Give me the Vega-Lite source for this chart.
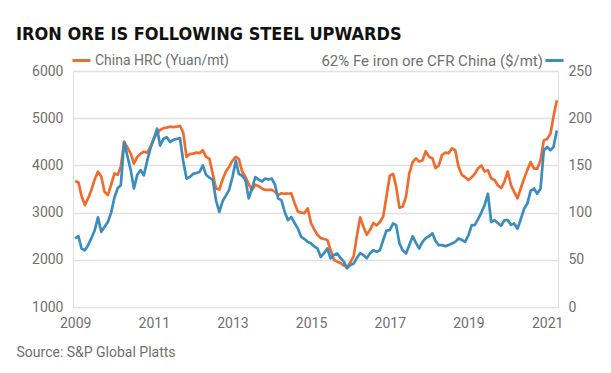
{
  "$schema": "https://vega.github.io/schema/vega-lite/v6.json",
  "width": 485,
  "height": 236,
  "autosize": {"type": "none"},
  "padding": {"left": 73, "top": 71, "right": 53, "bottom": 66},
  "background": "white",
  "title": {
    "text": "IRON ORE IS FOLLOWING STEEL UPWARDS",
    "anchor": "start",
    "frame": "group",
    "dx": -57,
    "offset": -8,
    "baseline": "alphabetic",
    "font": "DejaVu Sans Condensed, Roboto",
    "fontSize": 18,
    "fontWeight": "bold",
    "color": "#111111"
  },
  "data": {
    "values": [
      {"d": "2009-01-01", "hrc": 3670, "ore": 72.6},
      {"d": "2009-02-01", "hrc": 3640, "ore": 75},
      {"d": "2009-03-01", "hrc": 3350, "ore": 62},
      {"d": "2009-04-01", "hrc": 3160, "ore": 60},
      {"d": "2009-05-01", "hrc": 3300, "ore": 65.5},
      {"d": "2009-06-01", "hrc": 3480, "ore": 73},
      {"d": "2009-07-01", "hrc": 3700, "ore": 81},
      {"d": "2009-08-01", "hrc": 3865, "ore": 95},
      {"d": "2009-09-01", "hrc": 3760, "ore": 79.6},
      {"d": "2009-10-01", "hrc": 3440, "ore": 85},
      {"d": "2009-11-01", "hrc": 3370, "ore": 90},
      {"d": "2009-12-01", "hrc": 3590, "ore": 100},
      {"d": "2010-01-01", "hrc": 3830, "ore": 116},
      {"d": "2010-02-01", "hrc": 3800, "ore": 126},
      {"d": "2010-03-01", "hrc": 3970, "ore": 129},
      {"d": "2010-04-01", "hrc": 4500, "ore": 175},
      {"d": "2010-05-01", "hrc": 4380, "ore": 160},
      {"d": "2010-06-01", "hrc": 4250, "ore": 145},
      {"d": "2010-07-01", "hrc": 4040, "ore": 125.5},
      {"d": "2010-08-01", "hrc": 4180, "ore": 140},
      {"d": "2010-09-01", "hrc": 4250, "ore": 145},
      {"d": "2010-10-01", "hrc": 4290, "ore": 139.5},
      {"d": "2010-11-01", "hrc": 4270, "ore": 155},
      {"d": "2010-12-01", "hrc": 4390, "ore": 168},
      {"d": "2011-01-01", "hrc": 4570, "ore": 178},
      {"d": "2011-02-01", "hrc": 4680, "ore": 189},
      {"d": "2011-03-01", "hrc": 4750, "ore": 171},
      {"d": "2011-04-01", "hrc": 4790, "ore": 178},
      {"d": "2011-05-01", "hrc": 4800, "ore": 180},
      {"d": "2011-06-01", "hrc": 4820, "ore": 174.7},
      {"d": "2011-07-01", "hrc": 4810, "ore": 177},
      {"d": "2011-08-01", "hrc": 4820, "ore": 178},
      {"d": "2011-09-01", "hrc": 4840, "ore": 179},
      {"d": "2011-10-01", "hrc": 4700, "ore": 155},
      {"d": "2011-11-01", "hrc": 4180, "ore": 136},
      {"d": "2011-12-01", "hrc": 4240, "ore": 137.7},
      {"d": "2012-01-01", "hrc": 4250, "ore": 141},
      {"d": "2012-02-01", "hrc": 4270, "ore": 142},
      {"d": "2012-03-01", "hrc": 4260, "ore": 143},
      {"d": "2012-04-01", "hrc": 4320, "ore": 150},
      {"d": "2012-05-01", "hrc": 4180, "ore": 140},
      {"d": "2012-06-01", "hrc": 4140, "ore": 137},
      {"d": "2012-07-01", "hrc": 3830, "ore": 135},
      {"d": "2012-08-01", "hrc": 3510, "ore": 113},
      {"d": "2012-09-01", "hrc": 3490, "ore": 100.7},
      {"d": "2012-10-01", "hrc": 3700, "ore": 112},
      {"d": "2012-11-01", "hrc": 3870, "ore": 118},
      {"d": "2012-12-01", "hrc": 3970, "ore": 124},
      {"d": "2013-01-01", "hrc": 4100, "ore": 137.7},
      {"d": "2013-02-01", "hrc": 4180, "ore": 155},
      {"d": "2013-03-01", "hrc": 4140, "ore": 141},
      {"d": "2013-04-01", "hrc": 3870, "ore": 139},
      {"d": "2013-05-01", "hrc": 3760, "ore": 135},
      {"d": "2013-06-01", "hrc": 3600, "ore": 115},
      {"d": "2013-07-01", "hrc": 3480, "ore": 125.5},
      {"d": "2013-08-01", "hrc": 3590, "ore": 137.7},
      {"d": "2013-09-01", "hrc": 3560, "ore": 135},
      {"d": "2013-10-01", "hrc": 3510, "ore": 133},
      {"d": "2013-11-01", "hrc": 3480, "ore": 136},
      {"d": "2013-12-01", "hrc": 3480, "ore": 135},
      {"d": "2014-01-01", "hrc": 3480, "ore": 136},
      {"d": "2014-02-01", "hrc": 3440, "ore": 129},
      {"d": "2014-03-01", "hrc": 3370, "ore": 115},
      {"d": "2014-04-01", "hrc": 3410, "ore": 113},
      {"d": "2014-05-01", "hrc": 3400, "ore": 100.7},
      {"d": "2014-06-01", "hrc": 3400, "ore": 92},
      {"d": "2014-07-01", "hrc": 3410, "ore": 95.5},
      {"d": "2014-08-01", "hrc": 3200, "ore": 89},
      {"d": "2014-09-01", "hrc": 3020, "ore": 83},
      {"d": "2014-10-01", "hrc": 3000, "ore": 74.3},
      {"d": "2014-11-01", "hrc": 2990, "ore": 72},
      {"d": "2014-12-01", "hrc": 3090, "ore": 69},
      {"d": "2015-01-01", "hrc": 2770, "ore": 67.3},
      {"d": "2015-02-01", "hrc": 2640, "ore": 64},
      {"d": "2015-03-01", "hrc": 2530, "ore": 62},
      {"d": "2015-04-01", "hrc": 2460, "ore": 53},
      {"d": "2015-05-01", "hrc": 2440, "ore": 57},
      {"d": "2015-06-01", "hrc": 2420, "ore": 62},
      {"d": "2015-07-01", "hrc": 2210, "ore": 51.5},
      {"d": "2015-08-01", "hrc": 2000, "ore": 55},
      {"d": "2015-09-01", "hrc": 1960, "ore": 56.7},
      {"d": "2015-10-01", "hrc": 1930, "ore": 52},
      {"d": "2015-11-01", "hrc": 1880, "ore": 48},
      {"d": "2015-12-01", "hrc": 1840, "ore": 41},
      {"d": "2016-01-01", "hrc": 1950, "ore": 44.4},
      {"d": "2016-02-01", "hrc": 2080, "ore": 46},
      {"d": "2016-03-01", "hrc": 2500, "ore": 52},
      {"d": "2016-04-01", "hrc": 2900, "ore": 57},
      {"d": "2016-05-01", "hrc": 2700, "ore": 55},
      {"d": "2016-06-01", "hrc": 2530, "ore": 51.5},
      {"d": "2016-07-01", "hrc": 2630, "ore": 56.8},
      {"d": "2016-08-01", "hrc": 2780, "ore": 60},
      {"d": "2016-09-01", "hrc": 2730, "ore": 58.5},
      {"d": "2016-10-01", "hrc": 2800, "ore": 60},
      {"d": "2016-11-01", "hrc": 2920, "ore": 71},
      {"d": "2016-12-01", "hrc": 3340, "ore": 81},
      {"d": "2017-01-01", "hrc": 3780, "ore": 81.4},
      {"d": "2017-02-01", "hrc": 3820, "ore": 88.5},
      {"d": "2017-03-01", "hrc": 3550, "ore": 86.7},
      {"d": "2017-04-01", "hrc": 3100, "ore": 67.3},
      {"d": "2017-05-01", "hrc": 3130, "ore": 60},
      {"d": "2017-06-01", "hrc": 3340, "ore": 56.8},
      {"d": "2017-07-01", "hrc": 3830, "ore": 65.5},
      {"d": "2017-08-01", "hrc": 4070, "ore": 75},
      {"d": "2017-09-01", "hrc": 4150, "ore": 68},
      {"d": "2017-10-01", "hrc": 4080, "ore": 62},
      {"d": "2017-11-01", "hrc": 4110, "ore": 69},
      {"d": "2017-12-01", "hrc": 4300, "ore": 73},
      {"d": "2018-01-01", "hrc": 4180, "ore": 75},
      {"d": "2018-02-01", "hrc": 4150, "ore": 78},
      {"d": "2018-03-01", "hrc": 3940, "ore": 70},
      {"d": "2018-04-01", "hrc": 4000, "ore": 65.5},
      {"d": "2018-05-01", "hrc": 4220, "ore": 65.5},
      {"d": "2018-06-01", "hrc": 4270, "ore": 64.5},
      {"d": "2018-07-01", "hrc": 4260, "ore": 65.5},
      {"d": "2018-08-01", "hrc": 4360, "ore": 67.3},
      {"d": "2018-09-01", "hrc": 4320, "ore": 69},
      {"d": "2018-10-01", "hrc": 3970, "ore": 72.6},
      {"d": "2018-11-01", "hrc": 3800, "ore": 71},
      {"d": "2018-12-01", "hrc": 3750, "ore": 69},
      {"d": "2019-01-01", "hrc": 3690, "ore": 76},
      {"d": "2019-02-01", "hrc": 3750, "ore": 86.7},
      {"d": "2019-03-01", "hrc": 3820, "ore": 86.7},
      {"d": "2019-04-01", "hrc": 3940, "ore": 93},
      {"d": "2019-05-01", "hrc": 4000, "ore": 100},
      {"d": "2019-06-01", "hrc": 3870, "ore": 108},
      {"d": "2019-07-01", "hrc": 3900, "ore": 120},
      {"d": "2019-08-01", "hrc": 3720, "ore": 90},
      {"d": "2019-09-01", "hrc": 3690, "ore": 92},
      {"d": "2019-10-01", "hrc": 3580, "ore": 89},
      {"d": "2019-11-01", "hrc": 3520, "ore": 86},
      {"d": "2019-12-01", "hrc": 3650, "ore": 92},
      {"d": "2020-01-01", "hrc": 3870, "ore": 92},
      {"d": "2020-02-01", "hrc": 3580, "ore": 87},
      {"d": "2020-03-01", "hrc": 3440, "ore": 88.5},
      {"d": "2020-04-01", "hrc": 3300, "ore": 83},
      {"d": "2020-05-01", "hrc": 3510, "ore": 93},
      {"d": "2020-06-01", "hrc": 3720, "ore": 104},
      {"d": "2020-07-01", "hrc": 3900, "ore": 109.6},
      {"d": "2020-08-01", "hrc": 4070, "ore": 123},
      {"d": "2020-09-01", "hrc": 3930, "ore": 125.5},
      {"d": "2020-10-01", "hrc": 3930, "ore": 120},
      {"d": "2020-11-01", "hrc": 4110, "ore": 125.5},
      {"d": "2020-12-01", "hrc": 4530, "ore": 166},
      {"d": "2021-01-01", "hrc": 4560, "ore": 169.5},
      {"d": "2021-02-01", "hrc": 4670, "ore": 166},
      {"d": "2021-03-01", "hrc": 5030, "ore": 169.5},
      {"d": "2021-04-01", "hrc": 5380, "ore": 187}
    ]
  },
  "encoding": {
    "x": {
      "field": "d",
      "type": "temporal",
      "scale": {"type": "utc", "domain": [{"year": 2008, "month": 12, "date": 12, "utc": true}, {"year": 2021, "month": 4, "date": 12, "utc": true}]},
      "axis": {
        "values": [
          {"year": 2009, "utc": true}, {"year": 2011, "utc": true}, {"year": 2013, "utc": true},
          {"year": 2015, "utc": true}, {"year": 2017, "utc": true}, {"year": 2019, "utc": true},
          {"year": 2021, "utc": true}
        ],
        "format": "%Y",
        "grid": false,
        "domain": false,
        "ticks": false,
        "labelFont": "Roboto",
        "labelFontSize": 14,
        "labelColor": "#707070",
        "labelPadding": 9,
        "labelOverlap": false,
        "title": "Source: S&P Global Platts",
        "titleX": -57,
        "titleY": 45,
        "titleAlign": "left",
        "titleAnchor": "start",
        "titleBaseline": "middle",
        "titleFont": "Roboto",
        "titleFontSize": 14,
        "titleFontWeight": "normal",
        "titleColor": "#707070"
      }
    }
  },
  "layer": [
    {
      "mark": {"type": "line", "strokeWidth": 2.7, "strokeJoin": "round"},
      "encoding": {
        "y": {
          "field": "hrc",
          "type": "quantitative",
          "scale": {"domain": [1000, 6000], "nice": false, "zero": false},
          "axis": {
            "values": [1000, 2000, 3000, 4000, 5000, 6000],
            "format": "d",
            "grid": true,
            "gridColor": "#e0e0e6",
            "gridWidth": 1.5,
            "domain": false,
            "ticks": false,
            "labelPadding": 10,
            "labelFont": "Roboto",
            "labelFontSize": 14,
            "labelColor": "#707070",
            "title": null
          }
        },
        "color": {
          "datum": "China HRC (Yuan/mt)",
          "scale": {"range": ["#EF6C2E"]},
          "legend": {
            "orient": "none",
            "legendX": -2,
            "legendY": -21,
            "title": null,
            "symbolType": "stroke",
            "symbolStrokeWidth": 3,
            "symbolSize": 324,
            "labelFont": "Roboto",
            "labelFontSize": 14,
            "labelColor": "#707070",
            "labelOffset": 3,
            "labelLimit": 300
          }
        }
      }
    },
    {
      "mark": {"type": "line", "strokeWidth": 2.7, "strokeJoin": "round"},
      "encoding": {
        "y": {
          "field": "ore",
          "type": "quantitative",
          "scale": {"domain": [0, 250], "nice": false},
          "axis": {
            "orient": "right",
            "values": [0, 50, 100, 150, 200, 250],
            "format": "d",
            "grid": false,
            "domain": false,
            "ticks": false,
            "labelPadding": 10,
            "labelFont": "Roboto",
            "labelFontSize": 14,
            "labelColor": "#707070",
            "title": null
          }
        },
        "color": {
          "datum": "62% Fe iron ore CFR China ($/mt)",
          "scale": {"range": ["#3B8DBD"]},
          "legend": {
            "orient": "none",
            "legendX": 471,
            "legendY": -21,
            "title": null,
            "symbolType": "stroke",
            "symbolStrokeWidth": 3,
            "symbolSize": 324,
            "labelFont": "Roboto",
            "labelFontSize": 15,
            "labelColor": "#707070",
            "labelAlign": "right",
            "labelOffset": -22,
            "labelLimit": 300
          }
        }
      }
    }
  ],
  "resolve": {"scale": {"y": "independent", "color": "independent"}}
}
